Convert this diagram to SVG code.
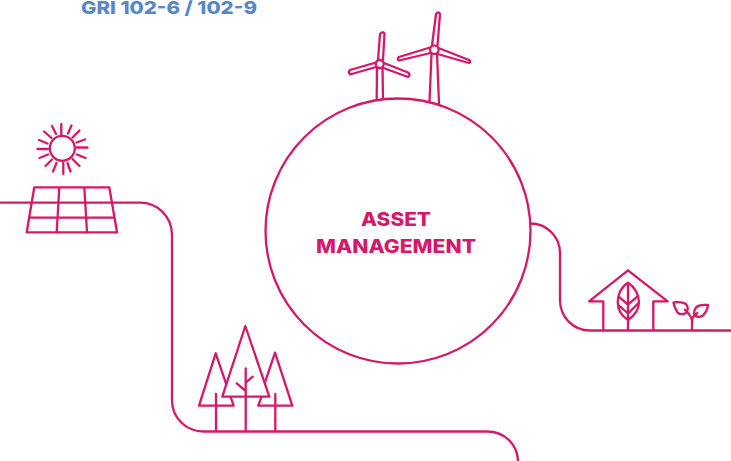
<svg xmlns="http://www.w3.org/2000/svg" width="731" height="461" viewBox="0 0 731 461">
<style>
.l{fill:none;stroke:#d6186a;stroke-width:2.300;stroke-linejoin:round;stroke-linecap:round}
.t{font-family:Inter,"Liberation Sans",sans-serif;font-weight:800}
.m{fill:#d6186a;font-size:18.500px;text-anchor:middle}
</style>
<rect width="731" height="461" fill="#fff"/>
<g id="connectors">
<path class="l" d="M0 202.700H140C158 202.700 172 217 172 235V400C172 418 186 431.500 204 431.500H487C505 431.500 518 445 518 462"/>
<path class="l" d="M530.500 223.500C547 223.500 560 237 560 253V300C560 317 573 330.500 590 330.500H732"/>
</g>
<g id="title"><text class="t" x="81" y="14" font-size="18" fill="#5b86c5" textLength="176" lengthAdjust="spacingAndGlyphs">GRI 102-6 / 102-9</text></g>
<g id="asset-management">
<circle class="l" cx="398" cy="231" r="132.500"/>
<text class="t m" x="396" y="225.500" textLength="70" lengthAdjust="spacingAndGlyphs">ASSET</text>
<text class="t m" x="396" y="252.700" textLength="160" lengthAdjust="spacingAndGlyphs">MANAGEMENT</text>
</g>
<g id="wind-turbines">
<path class="l" d="M377 67.500 376.700 99M382.500 67.500 383 99"/>
<circle class="l" cx="379.700" cy="64" r="4"/>
<path class="l" d="M378 60 380 34Q382.300 30.800 384.500 33.500L383 60M376 62.500 350 70Q348 72 350 74.500L376 67M384 63 408 72.500Q411 75 408 77L383.500 68"/>
<path class="l" d="M431.500 54 429.500 102M437 54 439 103"/>
<circle class="l" cx="434.300" cy="49.700" r="4.300"/>
<path class="l" d="M432 45.500 436 14Q438.500 11 440 14L437.500 45.500M430 47.500 399 57Q396.500 59 399 60.500L430.500 53M438.500 48 469 60Q471.500 62 469 63L437.500 54"/>
</g>
<g id="sun">
<circle class="l" cx="62.300" cy="148.300" r="12.500"/>
<path class="l" d="M61.300 124V135M71.500 125.500 68 133.500M79.500 130.500 72.500 137.500M85 139.500 76.500 142.500M87.500 147.500H76.500M85.500 158 77 154.500M79.500 166 72.500 159M70.500 171.500 67.500 163M63.300 174V163M53 171.500 56.500 163M45.500 166 52 159.500M39.500 158 48 154.500M37.500 149H48M39 140 47.500 143.500M44 131.500 51.500 138M52 126 56 134"/>
</g>
<g id="solar-panel">
<path class="l" d="M34.300 187.300H109.300L117 232.300H26.700ZM29.500 217.700H114.400M59.300 187.300 56.700 232.300M84.300 187.300 87 232.300"/>
</g>
<g id="trees">
<path class="l" d="M245.300 326 222.300 396.700H269.300ZM245.700 368.300V431M236.700 383.300 245.300 390.700M252.700 376.700 245.700 382.700"/>
<path class="l" d="M226 383.300 215.700 353.300 199 405.700H233.700L230.700 397.300M216 394V431"/>
<path class="l" d="M265 382.300 275 352.700 292.300 405.700H258.300L261.300 397.300M275.300 394V431"/>
</g>
<g id="house">
<path class="l" d="M603.300 330V301.300H589L628 270.300 667.700 301.300H653.300V330"/>
<path class="l" d="M628 282.700C621 287 617.700 295 617.700 302C617.700 310 622 316 628 320C634 316 639 310 639 302C639 295 635 287 628 282.700ZM628 282.700V330M618.300 296.300 628 304.700M637.500 296.300 628 304.700M618.500 305 628 313.500M638.500 303 628 313.500"/>
</g>
<g id="sprout">
<path class="l" d="M692 330V321.300C692 316 688 313 684.700 309.700M692 321.300C692 318 694 315 697.300 313"/>
<path class="l" d="M673.500 302.500C678 302 683 302 686 304C688.500 307 688 311 686 313C683 314.500 679 314.500 677.500 312.500C675.500 309 674 306 673.500 302.500ZM708 305C703 304.500 699 305 696.500 307C694 310 693.500 313 695 315.500C697.500 317.500 700.500 317 703 315.500C705.500 313 707.500 309 708 305Z"/>
</g>
</svg>
